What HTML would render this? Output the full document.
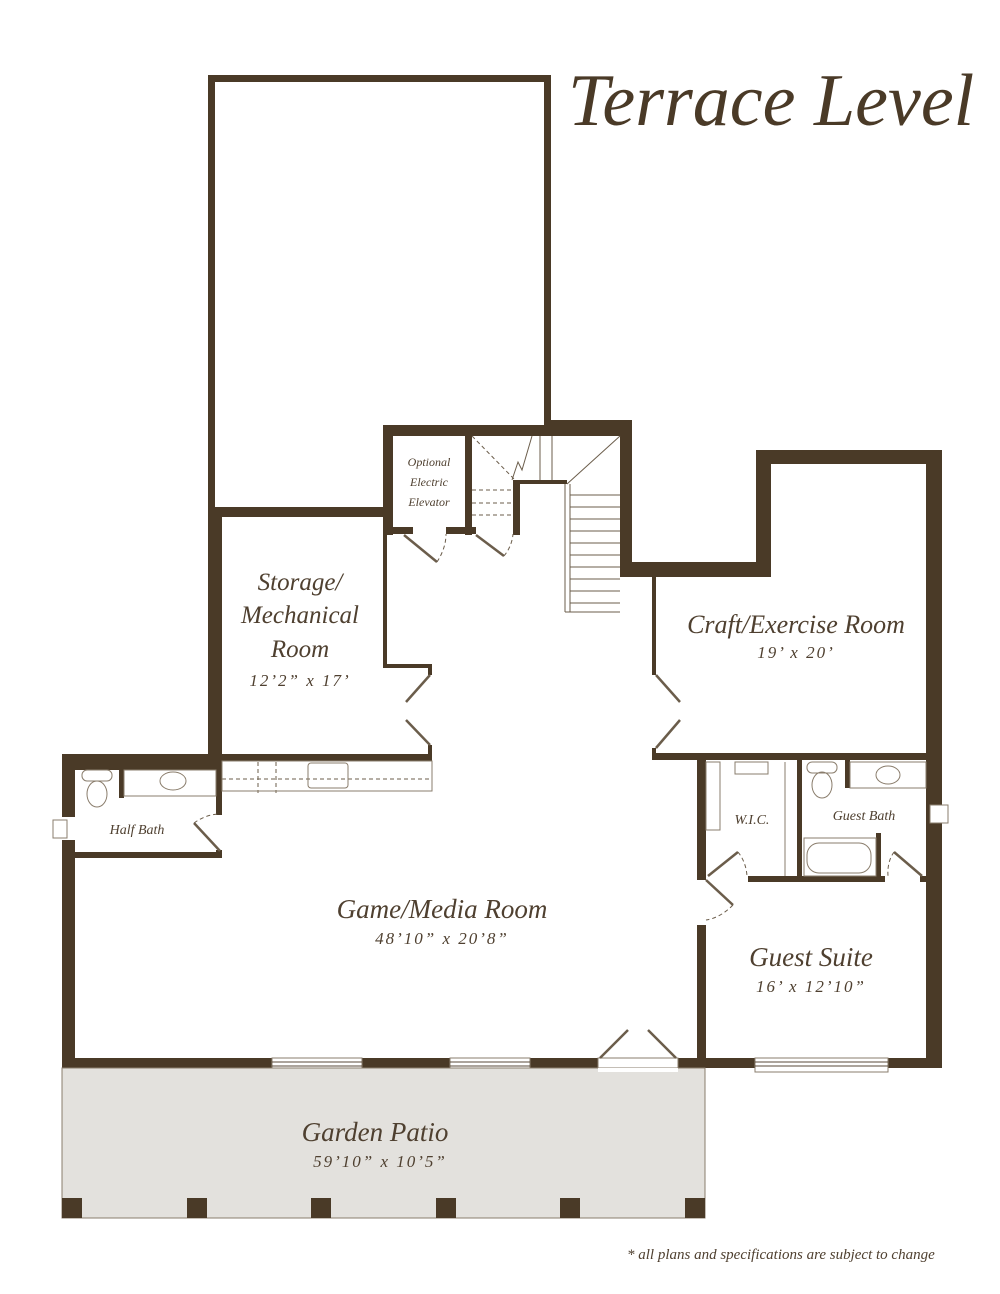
<!DOCTYPE html>
<html><head><meta charset="utf-8"><style>
html,body{margin:0;padding:0;background:#fff;}
svg{display:block;}
text{font-family:"Liberation Serif",serif;font-style:italic;fill:#4f4030;}
</style></head><body>
<svg width="1000" height="1294" viewBox="0 0 1000 1294" xmlns="http://www.w3.org/2000/svg">
<g fill="#4a3a27">
<rect x="208" y="75" width="343" height="7"/>
<rect x="208" y="75" width="7" height="440"/>
<rect x="544" y="75" width="7" height="360"/>
<rect x="208" y="507" width="14" height="254"/>
<rect x="215" y="507" width="172" height="10"/>
<rect x="383" y="425" width="4" height="243"/>
<rect x="383" y="664" width="49" height="4"/>
<rect x="428" y="664" width="4" height="11"/>
<rect x="428" y="745" width="4" height="16"/>
<rect x="62" y="754" width="370" height="7"/>
<rect x="383" y="425" width="249" height="11"/>
<rect x="544" y="420" width="88" height="12"/>
<rect x="383" y="425" width="10" height="110"/>
<rect x="383" y="527" width="30" height="7"/>
<rect x="446" y="527" width="30" height="7"/>
<rect x="465" y="430" width="7" height="105"/>
<rect x="513" y="480" width="7" height="55"/>
<rect x="515" y="480" width="52" height="4"/>
<rect x="620" y="420" width="12" height="157"/>
<rect x="620" y="562" width="151" height="15"/>
<rect x="756" y="450" width="186" height="14"/>
<rect x="756" y="450" width="15" height="127"/>
<rect x="926" y="450" width="16" height="618"/>
<rect x="652" y="577" width="4" height="98"/>
<rect x="652" y="748" width="4" height="12"/>
<rect x="652" y="753" width="290" height="7"/>
<rect x="62" y="757" width="160" height="13"/>
<rect x="62" y="757" width="13" height="60"/>
<rect x="62" y="840" width="13" height="228"/>
<rect x="216" y="757" width="6" height="58"/>
<rect x="216" y="850" width="6" height="8"/>
<rect x="75" y="852" width="147" height="6"/>
<rect x="119" y="768" width="5" height="30"/>
<rect x="697" y="760" width="9" height="120"/>
<rect x="697" y="925" width="9" height="140"/>
<rect x="748" y="876" width="137" height="6"/>
<rect x="797" y="760" width="5" height="120"/>
<rect x="876" y="833" width="5" height="49"/>
<rect x="845" y="760" width="5" height="28"/>
<rect x="920" y="876" width="10" height="6"/>
<rect x="62" y="1058" width="880" height="10"/>
</g>
<g fill="#fff" stroke="#8a7d6c" stroke-width="1">
<rect x="272" y="1058" width="90" height="14"/>
<rect x="450" y="1058" width="80" height="14"/>
<rect x="598" y="1058" width="80" height="14"/>
<rect x="755" y="1058" width="133" height="14"/>
<rect x="53" y="820" width="14" height="18"/>
<rect x="930" y="805" width="18" height="18"/>
</g>
<g stroke="#5a4a38" stroke-width="1">
<line x1="272" y1="1062" x2="362" y2="1062"/><line x1="272" y1="1066" x2="362" y2="1066"/>
<line x1="450" y1="1062" x2="530" y2="1062"/><line x1="450" y1="1066" x2="530" y2="1066"/>
<line x1="755" y1="1062" x2="888" y2="1062"/><line x1="755" y1="1066" x2="888" y2="1066"/>
</g>
<rect x="62" y="1068" width="643" height="150" fill="#e3e1dd" stroke="#8a7d6c"/>
<rect x="598" y="1068" width="80" height="4" fill="#fff"/>
<g fill="#4a3a27">
<rect x="62" y="1198" width="20" height="20"/><rect x="187" y="1198" width="20" height="20"/>
<rect x="311" y="1198" width="20" height="20"/><rect x="436" y="1198" width="20" height="20"/>
<rect x="560" y="1198" width="20" height="20"/><rect x="685" y="1198" width="20" height="20"/>
</g>
<g stroke="#6b5d4b" stroke-width="2.5" fill="none">
<line x1="600" y1="1058" x2="628" y2="1030"/><line x1="676" y1="1058" x2="648" y2="1030"/>
<line x1="404" y1="535" x2="437" y2="562"/><line x1="476" y1="535" x2="504" y2="556"/>
<line x1="430" y1="675" x2="406" y2="702"/><line x1="430" y1="745" x2="406" y2="720"/>
<line x1="656" y1="675" x2="680" y2="702"/><line x1="656" y1="748" x2="680" y2="720"/>
<line x1="194" y1="823" x2="220" y2="851"/>
<line x1="706" y1="880" x2="733" y2="905"/>
<line x1="708" y1="876" x2="738" y2="852"/>
<line x1="922" y1="876" x2="894" y2="852"/>
</g>
<g stroke="#6b5d4b" stroke-width="1" stroke-dasharray="4,3" fill="none">
<path d="M437 562 Q446 548 446 534"/><path d="M504 556 Q512 546 513 534"/>
<path d="M194 823 Q205 815 218 814"/><path d="M733 905 Q720 918 706 920"/>
<path d="M738 852 Q746 862 747 876"/><path d="M894 852 Q887 862 888 876"/>
<line x1="472" y1="436" x2="515" y2="480"/>
<line x1="472" y1="490" x2="513" y2="490"/><line x1="472" y1="503" x2="513" y2="503"/><line x1="472" y1="515" x2="513" y2="515"/>
<line x1="222" y1="779" x2="432" y2="779"/>
<line x1="258" y1="762" x2="258" y2="793"/><line x1="276" y1="762" x2="276" y2="793"/>
</g>
<g stroke="#6b5d4b" stroke-width="1" fill="none">
<line x1="567" y1="484" x2="620" y2="436"/>
<line x1="570" y1="484" x2="570" y2="612"/><line x1="565" y1="484" x2="565" y2="612"/>
<line x1="565" y1="612" x2="620" y2="612"/>
<line x1="540" y1="436" x2="540" y2="480"/><line x1="552" y1="436" x2="552" y2="480"/>
<path d="M532 436 L522 470 L518 462 L512 480"/>
</g>
<g stroke="#6b5d4b" stroke-width="1">
<line x1="570" y1="495" x2="620" y2="495"/><line x1="570" y1="507" x2="620" y2="507"/>
<line x1="570" y1="519" x2="620" y2="519"/><line x1="570" y1="531" x2="620" y2="531"/>
<line x1="570" y1="543" x2="620" y2="543"/><line x1="570" y1="555" x2="620" y2="555"/>
<line x1="570" y1="567" x2="620" y2="567"/><line x1="570" y1="579" x2="620" y2="579"/>
<line x1="570" y1="591" x2="620" y2="591"/><line x1="570" y1="603" x2="620" y2="603"/>
</g>
<g stroke="#8a7d6c" stroke-width="1" fill="none">
<rect x="222" y="761" width="210" height="30"/>
<rect x="308" y="763" width="40" height="25" rx="3"/>
<rect x="124" y="770" width="92" height="26"/>
<ellipse cx="173" cy="781" rx="13" ry="9"/>
<rect x="82" y="770" width="30" height="11" rx="5"/>
<ellipse cx="97" cy="794" rx="10" ry="13"/>
<rect x="807" y="762" width="30" height="11" rx="5"/>
<ellipse cx="822" cy="785" rx="10" ry="13"/>
<rect x="850" y="762" width="76" height="26"/>
<ellipse cx="888" cy="775" rx="12" ry="9"/>
<rect x="804" y="838" width="72" height="38"/>
<rect x="807" y="843" width="64" height="30" rx="12"/>
<rect x="735" y="762" width="33" height="12"/>
<rect x="706" y="762" width="14" height="68"/>
<line x1="785" y1="762" x2="785" y2="876"/>
</g>
<text x="568" y="125" font-size="74" style="fill:#4a3a27">Terrace Level</text>
<g text-anchor="middle">
<text x="300" y="590" font-size="25">Storage/</text>
<text x="300" y="623" font-size="25">Mechanical</text>
<text x="300" y="657" font-size="25">Room</text>
<text x="300" y="686" font-size="17" letter-spacing="2">12’2” x 17’</text>
<text x="429" y="466" font-size="12">Optional</text>
<text x="429" y="486" font-size="12">Electric</text>
<text x="429" y="506" font-size="12">Elevator</text>
<text x="796" y="633" font-size="26">Craft/Exercise Room</text>
<text x="796" y="658" font-size="17" letter-spacing="2">19’ x 20’</text>
<text x="137" y="834" font-size="14">Half Bath</text>
<text x="752" y="824" font-size="14">W.I.C.</text>
<text x="864" y="820" font-size="14">Guest Bath</text>
<text x="442" y="918" font-size="27">Game/Media Room</text>
<text x="442" y="944" font-size="17" letter-spacing="2">48’10” x 20’8”</text>
<text x="811" y="966" font-size="27">Guest Suite</text>
<text x="811" y="992" font-size="17" letter-spacing="2">16’ x 12’10”</text>
<text x="375" y="1141" font-size="27">Garden Patio</text>
<text x="380" y="1167" font-size="17" letter-spacing="2">59’10” x 10’5”</text>
</g>
<text x="627" y="1259" font-size="15">* all plans and specifications are subject to change</text>
</svg>
</body></html>
